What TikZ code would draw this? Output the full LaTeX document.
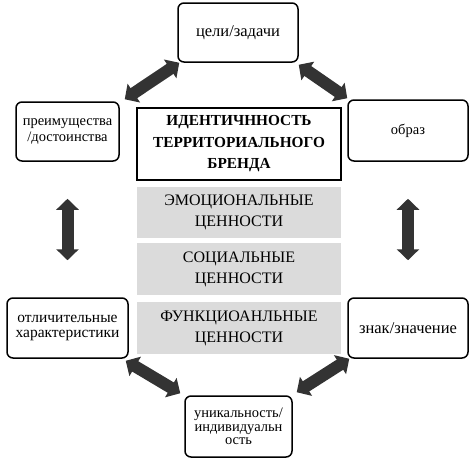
\documentclass[tikz,border=0pt]{standalone}
\usepackage{fontspec}
\setmainfont{Liberation Serif}
\usetikzlibrary{arrows.meta}
\colorlet{gris}{black!14}
\colorlet{fleche}{black!80}

\begin{document}
\begin{tikzpicture}[x=1pt,y=-1pt]%
        \useasboundingbox (0,0) rectangle (476,459);%%
        \begin{scope}
        \tikzstyle{every node}=[draw,rounded corners=6pt,line width=1.5pt,align=center,font=\fontsize{15}{15.5}\selectfont,inner sep=2pt] %%
        \node[minimum width=120pt,minimum height=59pt,font=\fontsize{16.5}{17}\selectfont] (goal) at (238,32.5) {цели/задачи}; %%
        \node[minimum width=103pt,minimum height=59pt,font=\fontsize{14.5}{15.5}\selectfont] (adv) at (67.5,131.5) {преимущества\\/достоинства}; %%
        \node[minimum width=120pt,minimum height=61pt,font=\fontsize{14.5}{15}\selectfont] (img) at (408,130.5) {образ}; %%
        \node[minimum width=121pt,minimum height=60pt,font=\fontsize{15.5}{15.5}\selectfont] (dist) at (67.5,328) {отличительные\\характеристики}; %%
        \node[minimum width=120pt,minimum height=60pt,font=\fontsize{16.5}{17}\selectfont] (sign) at (408,328) {знак/значение}; %%
        \node[minimum width=107pt,minimum height=61pt,font=\fontsize{14.5}{13.5}\selectfont] (uniq) at (238.5,426.5) {уникальность/\\индивидуальн\\ость}; %%
        \end{scope}
        \begin{scope}
        \tikzstyle{every node}=[minimum width=204pt,align=center,inner sep=0pt,font=\fontsize{16}{21}\selectfont] %%
        \node[draw,line width=2pt,minimum height=72pt,font=\bfseries\fontsize{15.3}{21.5}\selectfont] (core) at (239,144) {ИДЕНТИЧННОСТЬ\\ТЕРРИТОРИАЛЬНОГО\\БРЕНДА}; %%
        \node[fill=gris,minimum height=51pt] (emo) at (239,212.5) {ЭМОЦИОНАЛЬНЫЕ\\ЦЕННОСТИ}; %%
        \node[fill=gris,minimum height=52pt] (soc) at (239,269) {СОЦИАЛЬНЫЕ\\ЦЕННОСТИ}; %%
        \node[fill=gris,minimum height=52pt] (func) at (239,328) {ФУНКЦИОАНЛЬНЫЕ\\ЦЕННОСТИ}; %%
        \end{scope}
        \tikzstyle{duo}=[fleche,line width=12pt,{Triangle[length=11pt,width=22pt]}-{Triangle[length=11pt,width=22pt]}] %%
        \draw[duo] ([xshift=5pt,yshift=2pt]adv.north east)--([xshift=2pt]goal.south west); %%
        \draw[duo] ([yshift=-2pt]goal.south east)--([yshift=1pt]img.north west); %%
        \draw[duo,shorten <=37pt,shorten >=37pt] (adv.south)--(dist.north); %%
        \draw[duo,shorten <=37pt,shorten >=37pt] (img.south)--(sign.north); %%
        \draw[duo] ([xshift=-3pt,yshift=-2pt]dist.south east)--([xshift=-4pt,yshift=2pt]uniq.north west); %%
        \draw[duo] ([xshift=2pt]sign.south west)--([xshift=4pt,yshift=3pt]uniq.north east); %%
\end{tikzpicture}
\end{document}
